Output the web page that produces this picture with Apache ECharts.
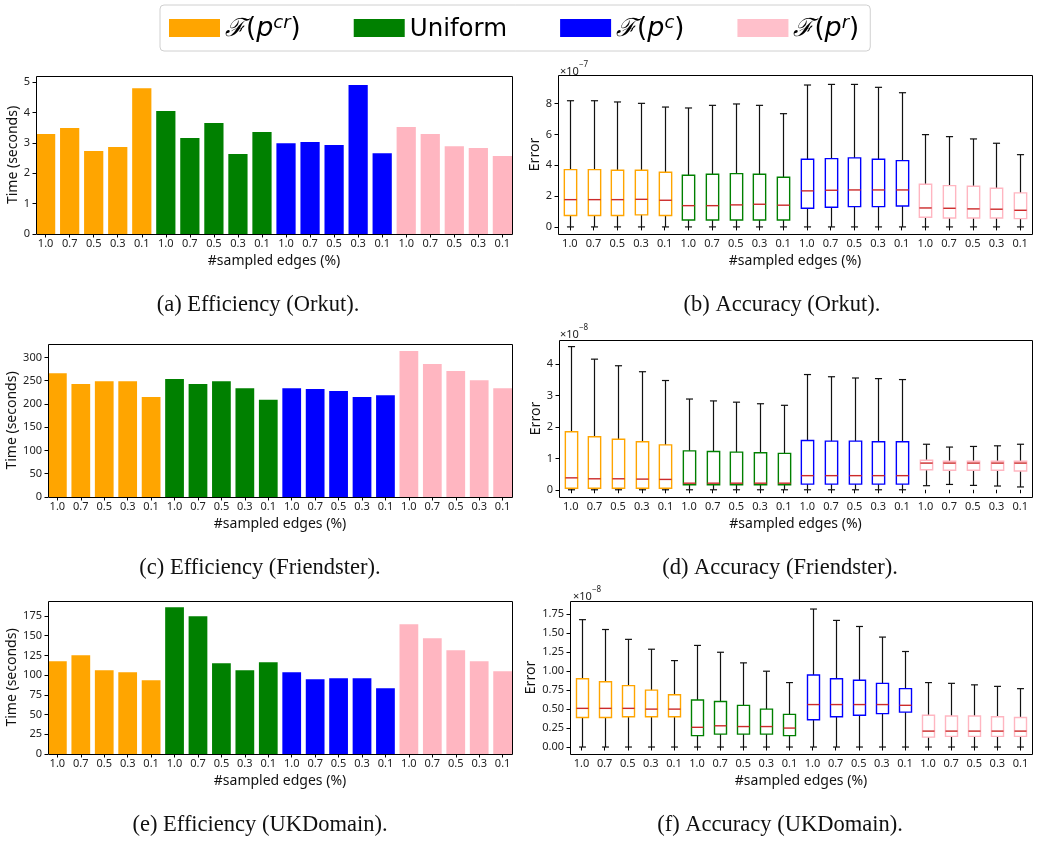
<!DOCTYPE html>
<html>
<head>
<meta charset="utf-8">
<script src="https://cdn.jsdelivr.net/npm/echarts@6/dist/echarts.min.js"></script>
<style>
html,body{margin:0;padding:0;background:#fff;}
#main{width:1039px;height:841px;}
</style>
</head>
<body>
<div id="main"></div>
<script>
// ---------- data ----------
const groupNames = ['ℱ(p^cr)', 'Uniform', 'ℱ(p^c)', 'ℱ(p^r)'];
const rateLabels = ['1.0', '0.7', '0.5', '0.3', '0.1'];
const xLabels = [].concat(rateLabels, rateLabels, rateLabels, rateLabels);

// Time (seconds), Orkut
const timeOrkutPcr = [3.29, 3.49, 2.73, 2.86, 4.80];
const timeOrkutUni = [4.05, 3.16, 3.65, 2.63, 3.36];
const timeOrkutPc  = [2.99, 3.03, 2.93, 4.90, 2.66];
const timeOrkutPr  = [3.52, 3.29, 2.89, 2.83, 2.57];
// Time (seconds), Friendster
const timeFriendPcr = [266, 243, 249, 249, 215];
const timeFriendUni = [254, 243, 249, 234, 209];
const timeFriendPc  = [234, 232, 228, 215, 219];
const timeFriendPr  = [314, 286, 271, 251, 234];
// Time (seconds), UKDomain
const timeUKPcr = [117.6, 125.2, 106.3, 103.7, 93.6];
const timeUKUni = [186.0, 174.6, 115.1, 106.3, 116.4];
const timeUKPc  = [103.7, 94.9, 96.1, 96.1, 83.5];
const timeUKPr  = [164.5, 146.7, 131.6, 117.6, 105.0];

// Error boxes [min, q1, median, q3, max]; Orkut in units of 1e-7
const errOrkutPcr = [[0,0.74,1.77,3.72,8.19],[0,0.74,1.77,3.72,8.19],[0,0.74,1.77,3.68,8.11],[0,0.78,1.79,3.68,8.02],[0,0.74,1.73,3.55,7.78]];
const errOrkutUni = [[0,0.45,1.38,3.35,7.72],[0,0.45,1.38,3.42,7.89],[0,0.45,1.43,3.46,7.98],[0,0.45,1.47,3.42,7.89],[0,0.45,1.41,3.22,7.35]];
const errOrkutPc  = [[0,1.21,2.34,4.39,9.21],[0,1.28,2.38,4.43,9.25],[0,1.32,2.40,4.48,9.25],[0,1.32,2.40,4.39,9.06],[0,1.36,2.40,4.30,8.71]];
const errOrkutPr  = [[0,0.63,1.23,2.77,5.99],[0,0.58,1.21,2.68,5.86],[0,0.58,1.17,2.64,5.71],[0,0.58,1.15,2.51,5.43],[0,0.54,1.08,2.21,4.69]];
// Friendster in units of 1e-8
const errFriendPcr = [[0,0.05,0.38,1.85,4.56],[0,0.05,0.35,1.69,4.16],[0,0.05,0.35,1.61,3.95],[0,0.05,0.34,1.53,3.76],[0,0.05,0.33,1.43,3.48]];
const errFriendUni = [[0,0.16,0.21,1.24,2.89],[0,0.16,0.21,1.22,2.83],[0,0.16,0.21,1.20,2.79],[0,0.16,0.21,1.18,2.74],[0,0.16,0.21,1.16,2.69]];
const errFriendPc  = [[0,0.18,0.45,1.57,3.67],[0,0.18,0.45,1.55,3.60],[0,0.18,0.45,1.55,3.56],[0,0.18,0.45,1.53,3.54],[0,0.18,0.45,1.53,3.51]];
const errFriendPr  = [[0.13,0.64,0.85,0.94,1.45],[0.17,0.62,0.85,0.91,1.36],[0.14,0.62,0.85,0.91,1.38],[0.12,0.62,0.85,0.91,1.40],[0.09,0.60,0.85,0.91,1.45]];
// UKDomain in units of 1e-8
const errUKPcr = [[0,0.39,0.51,0.90,1.68],[0,0.39,0.51,0.86,1.55],[0,0.40,0.51,0.81,1.42],[0,0.40,0.50,0.75,1.29],[0,0.40,0.50,0.69,1.14]];
const errUKUni = [[0,0.15,0.26,0.62,1.34],[0,0.17,0.28,0.60,1.25],[0,0.17,0.27,0.55,1.11],[0,0.17,0.27,0.50,1.00],[0,0.15,0.25,0.43,0.85]];
const errUKPc  = [[0,0.36,0.56,0.95,1.82],[0,0.40,0.56,0.90,1.67],[0,0.42,0.56,0.88,1.59],[0,0.44,0.56,0.84,1.45],[0,0.46,0.55,0.77,1.26]];
const errUKPr  = [[0,0.13,0.21,0.42,0.85],[0,0.14,0.21,0.41,0.84],[0,0.14,0.21,0.41,0.82],[0,0.14,0.21,0.40,0.80],[0,0.14,0.21,0.39,0.77]];

// tick values
const ticksOrkutTime  = [0, 1, 2, 3, 4, 5];
const ticksFriendTime = [0, 50, 100, 150, 200, 250, 300];
const ticksUKTime     = [0, 25, 50, 75, 100, 125, 150, 175];
const ticksOrkutErr   = [0, 2, 4, 6, 8];
const ticksFriendErr  = [0, 1, 2, 3, 4];
const ticksUKErr      = [0, 0.25, 0.5, 0.75, 1.0, 1.25, 1.5, 1.75];

// ---------- styles / layout ----------
const barColors = ['#FFA500', '#008000', '#0000FF', '#FFB6C1'];
const legendColors = ['#FFA500', '#008000', '#0000FF', '#FFC0CB'];
const medianColor = '#cc2a2a';
const tickFont = 'Noto Sans';
const axisNameSize = 14;

const panels = [
  {kind:'bar', L:36, R:512, T:76, B:234, min:0, max:5.2, ticks:ticksOrkutTime, groups:[timeOrkutPcr,timeOrkutUni,timeOrkutPc,timeOrkutPr], yName:'Time (seconds)', yGap:16, fmt:v=>String(v)},
  {kind:'box', L:558, R:1032, T:75, B:234, min:-0.46, max:9.86, ticks:ticksOrkutErr, groups:[errOrkutPcr,errOrkutUni,errOrkutPc,errOrkutPr], yName:'Error', yGap:15, fmt:v=>String(v), exp:'−7', expX:560, expY:70},
  {kind:'bar', L:48, R:512, T:344, B:497, min:0, max:329, ticks:ticksFriendTime, groups:[timeFriendPcr,timeFriendUni,timeFriendPc,timeFriendPr], yName:'Time (seconds)', yGap:27, fmt:v=>String(v)},
  {kind:'box', L:559, R:1032, T:340, B:497, min:-0.23, max:4.77, ticks:ticksFriendErr, groups:[errFriendPcr,errFriendUni,errFriendPc,errFriendPr], yName:'Error', yGap:15, fmt:v=>String(v), exp:'−8', expX:560, expY:333},
  {kind:'bar', L:48, R:512, T:601, B:754, min:0, max:194, ticks:ticksUKTime, groups:[timeUKPcr,timeUKUni,timeUKPc,timeUKPr], yName:'Time (seconds)', yGap:27, fmt:v=>String(v)},
  {kind:'box', L:570, R:1032, T:601, B:754, min:-0.092, max:1.926, ticks:ticksUKErr, groups:[errUKPcr,errUKUni,errUKPc,errUKPr], yName:'Error', yGap:27, fmt:v=>v.toFixed(2), exp:'−8', expX:573, expY:595}
];

const captions = [
  {text:'(a) Efficiency (Orkut).', x:258, y:305},
  {text:'(b) Accuracy (Orkut).', x:782, y:305},
  {text:'(c) Efficiency (Friendster).', x:260, y:568},
  {text:'(d) Accuracy (Friendster).', x:780, y:568},
  {text:'(e) Efficiency (UKDomain).', x:260, y:825},
  {text:'(f) Accuracy (UKDomain).', x:780, y:825}
];

const grids = [], xAxes = [], yAxes = [], series = [], graphics = [];

panels.forEach((p, pi) => {
  const w = p.R - p.L, h = p.B - p.T;
  let d = 0;
  if (p.kind === 'bar') { d = 0.1 * w / 19.8; }
  grids.push({left: p.L - d, top: p.T, width: w + 2 * d, height: h, show: false, containLabel: false});
  xAxes.push({
    type: 'category', gridIndex: pi, data: xLabels, boundaryGap: true,
    axisLine: {show: false},
    axisTick: {show: true, alignWithLabel: true, length: 3.5, lineStyle: {color: '#000', width: 1}},
    axisLabel: {interval: 0, fontSize: 11, fontFamily: tickFont, color: '#222', margin: 4.5},
    name: '#sampled edges (%)', nameLocation: 'middle', nameGap: 20,
    nameTextStyle: {fontSize: axisNameSize, fontFamily: tickFont, color: '#111'},
    splitLine: {show: false}
  });
  yAxes.push({
    type: 'value', gridIndex: pi, min: p.min, max: p.max, offset: -d,
    axisLine: {show: false},
    axisTick: {show: true, length: 3.5, lineStyle: {color: '#000', width: 1}, customValues: p.ticks},
    axisLabel: {fontSize: 11, fontFamily: tickFont, color: '#222', margin: 6, customValues: p.ticks, formatter: p.fmt},
    splitLine: {show: false},
    name: p.yName, nameLocation: 'middle', nameGap: p.yGap,
    nameTextStyle: {fontSize: axisNameSize, fontFamily: tickFont, color: '#111'}
  });
  // frame
  graphics.push({
    type: 'rect', z: 100,
    shape: {x: Math.round(p.L) + 0.5, y: Math.round(p.T) + 0.5, width: Math.round(w), height: Math.round(h)},
    style: {fill: null, stroke: '#000', lineWidth: 1}
  });
  if (p.exp) {
    graphics.push({
      type: 'text', left: p.expX, top: p.expY - 9, z: 100,
      style: {
        text: '{b|×10}{s|' + p.exp + '}',
        rich: {
          b: {fontSize: 11, fontFamily: tickFont, fill: '#222', verticalAlign: 'bottom', lineHeight: 16},
          s: {fontSize: 8, fontFamily: tickFont, fill: '#222', verticalAlign: 'top', lineHeight: 10}
        }
      }
    });
  }
  p.groups.forEach((vals, g) => {
    if (p.kind === 'bar') {
      series.push({
        type: 'bar', name: groupNames[g], xAxisIndex: pi, yAxisIndex: pi,
        barWidth: '80%', barGap: '-100%',
        itemStyle: {color: barColors[g]},
        data: vals.map((v, i) => [g * 5 + i, v]),
        animation: false
      });
    } else {
      series.push({
        type: 'custom', name: groupNames[g], xAxisIndex: pi, yAxisIndex: pi,
        data: vals.map((b, i) => [g * 5 + i, b[0], b[1], b[2], b[3], b[4]]),
        encode: {x: 0, y: [1, 2, 3, 4, 5]},
        itemStyle: {color: barColors[g]},
        animation: false,
        renderItem: function (params, api) {
          const x = api.value(0);
          const bw = api.size([1, 0])[0];
          const hw = bw * 0.26, cw = bw * 0.15;
          const c = k => api.coord([x, api.value(k)]);
          const pMin = c(1), pQ1 = c(2), pMed = c(3), pQ3 = c(4), pMax = c(5);
          const cx = Math.round(pMin[0]) + 0.5;
          const wStyle = {stroke: '#111', lineWidth: 1.2};
          const col = barColors[g];
          return {
            type: 'group',
            children: [
              {type: 'line', shape: {x1: cx, y1: pMin[1], x2: cx, y2: pQ1[1]}, style: wStyle},
              {type: 'line', shape: {x1: cx, y1: pQ3[1], x2: cx, y2: pMax[1]}, style: wStyle},
              {type: 'line', shape: {x1: cx - cw, y1: pMin[1], x2: cx + cw, y2: pMin[1]}, style: wStyle},
              {type: 'line', shape: {x1: cx - cw, y1: pMax[1], x2: cx + cw, y2: pMax[1]}, style: wStyle},
              {type: 'rect', shape: {x: cx - hw, y: pQ3[1], width: 2 * hw, height: pQ1[1] - pQ3[1]}, style: {fill: null, stroke: col, lineWidth: 1.4}},
              {type: 'line', shape: {x1: cx - hw, y1: pMed[1], x2: cx + hw, y2: pMed[1]}, style: {stroke: medianColor, lineWidth: 1.4}}
            ]
          };
        }
      });
    }
  });
});

captions.forEach(cp => {
  graphics.push({
    type: 'text', z: 100, x: cp.x, y: cp.y,
    style: {text: cp.text, fontSize: 22.5, fontFamily: 'Liberation Serif', fill: '#111', textAlign: 'center', textVerticalAlign: 'middle'}
  });
});

const legendRich = {
  'ℱ(p^cr)': '{f|ℱ}{a|(}{i|p}{s|cr}{a|)}',
  'Uniform': '{u|Uniform}',
  'ℱ(p^c)': '{f|ℱ}{a|(}{i|p}{s|c}{a|)}',
  'ℱ(p^r)': '{f|ℱ}{a|(}{i|p}{s|r}{a|)}'
};

const option = {
  backgroundColor: '#fff',
  animation: false,
  legend: {
    left: 160, top: 5,
    data: groupNames.map((n, i) => ({name: n, itemStyle: {color: legendColors[i]}})),
    icon: 'rect', itemWidth: 51, itemHeight: 18, itemGap: 53,
    padding: [9, 11, 9, 9],
    borderColor: '#d0d0d0', borderWidth: 1, borderRadius: 4,
    selectedMode: false,
    formatter: n => legendRich[n],
    textStyle: {
      rich: {
        u: {fontSize: 24.5, fontFamily: 'DejaVu Sans', color: '#000', verticalAlign: 'bottom', lineHeight: 28},
        a: {fontSize: 26, fontFamily: 'DejaVu Sans', color: '#000', verticalAlign: 'bottom', lineHeight: 28},
        f: {fontSize: 25, fontFamily: 'DejaVu Serif', fontStyle: 'italic', color: '#000', verticalAlign: 'bottom', lineHeight: 28},
        i: {fontSize: 27, fontFamily: 'DejaVu Sans', fontStyle: 'italic', color: '#000', verticalAlign: 'bottom', lineHeight: 28},
        s: {fontSize: 18, fontFamily: 'DejaVu Sans', fontStyle: 'italic', color: '#000', verticalAlign: 'top', lineHeight: 16}
      }
    }
  },
  grid: grids,
  xAxis: xAxes,
  yAxis: yAxes,
  series: series,
  graphic: graphics
};

const chart = echarts.init(document.getElementById('main'), null, {renderer: 'canvas'});
chart.setOption(option);
</script>
</body>
</html>
